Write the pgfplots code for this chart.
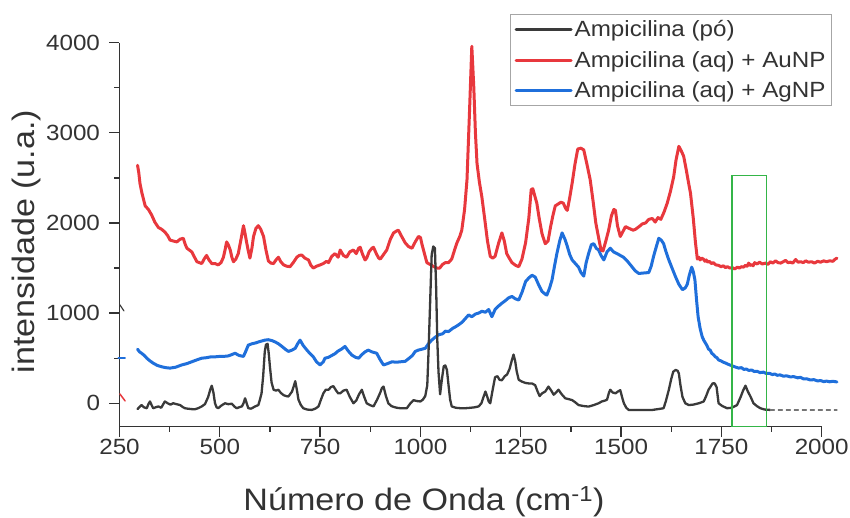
\documentclass[border=0pt]{standalone}
\usepackage{fontspec}
\setmainfont{Liberation Sans}[FakeStretch=1.1]
\usepackage{pgfplots}
\pgfplotsset{compat=1.18}

\definecolor{spred}{HTML}{E8383D}
\definecolor{spblue}{HTML}{1F6FDB}
\definecolor{spblack}{HTML}{3A3A3A}
\definecolor{boxgreen}{HTML}{34B548}
\definecolor{axgray}{HTML}{333333}

\begin{document}
\begin{tikzpicture}
\useasboundingbox (-119.5pt,-91.3pt) rectangle (730.5pt,426.7pt);
\begin{axis}[
  at={(0pt,0pt)}, anchor=south west,
  scale only axis, width=702.2pt, height=384pt,
  xmin=250, xmax=2000, ymin=-260, ymax=4000,
  clip=false,
  axis x line*=bottom, axis y line*=left,
  axis line style={-, line width=1.3pt, color=axgray},
  xtick={250,500,...,2000}, minor x tick num=1,
  ytick={0,1000,...,4000}, minor y tick num=1,
  tick align=outside,
  major tick length=10pt, minor tick length=5pt,
  every tick/.style={line width=1.3pt, color=axgray},
  scaled ticks=false,
  /pgf/number format/1000 sep={},
  /pgf/number format/assume math mode=true,
  ticklabel style={font=\fontsize{22}{26}\selectfont, text=axgray},
  yticklabel style={xshift=-6pt},
  xticklabel style={yshift=1pt},
  xlabel={Número de Onda (cm\textsuperscript{-1})},
  ylabel={intensidade (u.a.)},
  label style={font=\fontsize{31}{36}\selectfont, text=axgray},
  xlabel style={at={(axis description cs:0.4335,-0.2185)}, anchor=base},
  ylabel style={at={(axis description cs:-0.1324,0.482)}, anchor=center},
  legend style={at={(axis description cs:1.0147,1.074)}, anchor=north east,
    draw=gray!70, line width=1pt, fill=white,
    font=\fontsize{22}{26}\selectfont, text=axgray,
    inner sep=4pt, row sep=9pt},
  legend cell align=left,
  legend image code/.code={\draw[#1, line width=3pt] (0pt,0pt) -- (55pt,0pt);},
  every axis plot/.append style={line join=round, line cap=round},
]

% legend entries
\addlegendimage{spblack}
\addlegendentry{Ampicilina (pó)}
\addlegendimage{spred}
\addlegendentry{Ampicilina (aq) + AuNP}
\addlegendimage{spblue}
\addlegendentry{Ampicilina (aq) + AgNP}

% short stray strokes at the left edge
\addplot[spblue, line width=1.5pt, forget plot] coordinates {(247,500) (264,500)};
\addplot[spred, line width=1.5pt, forget plot] coordinates {(251,103) (264,26)};
\addplot[spblack, line width=1.2pt, forget plot] coordinates {(251,1092) (261,1025)};

% Ampicilina (aq) + AgNP
\addplot[spblue, line width=3pt, forget plot] coordinates {
(295,600) (300,570) (305,555) (312,530) (318,500) (326,470) (334,445) (344,420)
(355,405) (365,395) (376,390) (390,400) (405,425) (418,440) (430,460) (442,480)
(455,500) (466,505) (478,515) (488,515) (500,520) (510,520) (521,525) (530,540)
(538,555) (548,530) (559,520) (565,580) (571,645) (580,660) (590,670) (596,680)
(604,690) (612,700) (621,705) (630,695) (638,680) (646,660) (655,630) (663,600)
(671,575) (680,590) (688,610) (694,660) (700,700) (708,640) (717,590) (725,550)
(733,515) (741,460) (750,425) (758,460) (762,500) (771,510) (779,530) (787,550)
(795,580) (803,600) (812,630) (820,580) (829,535) (838,510) (846,500) (854,540)
(862,570) (870,590) (879,570) (891,555) (900,480) (908,425) (918,440) (929,460)
(940,455) (950,460) (962,465) (972,500) (980,530) (987,575) (995,590) (1004,600)
(1012,610) (1020,660) (1028,700) (1036,730) (1045,760) (1055,770) (1062,800) (1070,795)
(1080,830) (1088,850) (1095,870) (1104,900) (1112,940) (1120,980) (1128,960) (1137,990)
(1145,1000) (1153,1020) (1162,1010) (1170,1040) (1178,960) (1186,1040) (1195,1080) (1203,1110)
(1212,1140) (1220,1170) (1228,1185) (1236,1160) (1245,1145) (1253,1230) (1262,1350) (1270,1390)
(1278,1420) (1286,1400) (1295,1310) (1303,1240) (1311,1210) (1315,1200) (1322,1280) (1328,1370)
(1334,1520) (1340,1660) (1347,1800) (1353,1890) (1360,1820) (1366,1740) (1372,1650) (1378,1590)
(1386,1550) (1394,1510) (1400,1450) (1407,1410) (1413,1560) (1419,1660) (1426,1760) (1432,1770)
(1438,1720) (1444,1700) (1450,1640) (1457,1590) (1465,1680) (1473,1720) (1481,1680) (1490,1660)
(1498,1640) (1506,1620) (1515,1580) (1527,1515) (1535,1470) (1544,1440) (1556,1445) (1569,1450)
(1575,1520) (1581,1630) (1588,1740) (1594,1830) (1600,1810) (1606,1770) (1612,1680) (1619,1590)
(1627,1500) (1636,1400) (1644,1320) (1653,1260) (1660,1280) (1665,1320) (1670,1420) (1676,1510)
(1680,1460) (1684,1370) (1688,1150) (1692,960) (1697,830) (1702,740) (1706,700) (1710,670)
(1714,640) (1718,600) (1722,590) (1726,555) (1730,540) (1735,515) (1739,505) (1743,480)
(1749,470) (1755,455) (1761,445) (1768,430) (1774,420) (1780,410) (1786,400) (1793,390)
(1800,395) (1806,375) (1812,380) (1818,365) (1826,368) (1832,352) (1839,355) (1846,340)
(1855,345) (1862,330) (1870,332) (1877,318) (1883,325) (1889,310) (1896,315) (1905,300)
(1912,305) (1922,292) (1930,296) (1940,282) (1947,288) (1955,270) (1962,272) (1972,258)
(1980,262) (1990,248) (1997,252) (2005,240) (2012,246) (2020,238) (2028,244) (2038,236)
};

% Ampicilina (aq) + AuNP
\addplot[spred, line width=3pt, forget plot] coordinates {
(295,2640) (298,2560) (301,2440) (306,2330) (314,2190) (322,2150) (330,2090) (338,2010)
(347,1950) (355,1930) (363,1900) (370,1860) (376,1810) (384,1800) (393,1790) (401,1820)
(409,1830) (414,1760) (418,1720) (424,1700) (430,1680) (437,1620) (443,1570) (449,1560)
(455,1550) (461,1600) (467,1640) (473,1590) (480,1550) (488,1550) (496,1535) (503,1560)
(509,1620) (513,1700) (517,1790) (521,1760) (526,1700) (530,1620) (534,1570) (540,1600)
(546,1660) (552,1800) (559,1970) (563,1880) (567,1780) (571,1690) (575,1610) (580,1720)
(584,1850) (590,1940) (596,1970) (602,1930) (609,1850) (615,1700) (621,1580) (627,1555)
(634,1550) (640,1590) (646,1620) (652,1570) (659,1535) (667,1520) (675,1515) (683,1560)
(692,1620) (698,1640) (704,1645) (712,1610) (721,1590) (727,1530) (733,1500) (741,1520)
(750,1535) (758,1550) (766,1575) (771,1560) (779,1630) (787,1660) (795,1620) (800,1700)
(808,1640) (816,1620) (824,1680) (833,1700) (840,1660) (846,1720) (850,1730) (856,1650)
(862,1590) (866,1610) (872,1680) (879,1720) (883,1730) (890,1660) (896,1610) (900,1600)
(908,1650) (916,1700) (925,1820) (933,1890) (940,1910) (945,1920) (952,1860) (962,1780)
(970,1740) (979,1720) (987,1790) (995,1850) (1000,1840) (1004,1760) (1010,1660) (1016,1560)
(1024,1540) (1032,1520) (1041,1500) (1048,1500) (1055,1540) (1062,1560) (1070,1560) (1078,1600)
(1085,1700) (1091,1780) (1098,1850) (1103,1920) (1110,2150) (1116,2480) (1122,3200) (1128,3960)
(1133,3500) (1137,3000) (1141,2660) (1147,2450) (1153,2290) (1160,2050) (1167,1800) (1174,1630)
(1180,1610) (1186,1630) (1195,1780) (1203,1890) (1209,1800) (1215,1660) (1220,1620) (1228,1560)
(1237,1530) (1245,1515) (1253,1600) (1262,1780) (1270,2050) (1276,2370) (1280,2380) (1285,2300)
(1290,2220) (1296,2050) (1303,1880) (1311,1770) (1318,1800) (1324,1950) (1330,2080) (1336,2190)
(1343,2210) (1350,2230) (1356,2220) (1362,2160) (1366,2140) (1372,2280) (1378,2440) (1385,2650)
(1392,2820) (1400,2830) (1407,2810) (1415,2650) (1423,2480) (1430,2250) (1437,2000) (1443,1860)
(1450,1700) (1455,1690) (1462,1800) (1469,1920) (1476,2080) (1482,2150) (1486,2140) (1491,1970)
(1498,1850) (1504,1900) (1511,1960) (1520,1940) (1530,1920) (1536,1930) (1545,1960) (1553,1990)
(1561,2000) (1569,2040) (1578,2050) (1585,2010) (1592,2060) (1599,2040) (1607,2120) (1615,2220)
(1623,2350) (1631,2510) (1637,2700) (1644,2850) (1650,2800) (1656,2740) (1662,2600) (1668,2450)
(1673,2330) (1680,2050) (1685,1800) (1690,1600) (1694,1620) (1697,1590) (1701,1610) (1705,1600)
(1709,1575) (1712,1590) (1716,1565) (1720,1575) (1725,1550) (1730,1560) (1736,1535) (1743,1530)
(1749,1515) (1755,1525) (1760,1505) (1765,1515) (1771,1500) (1777,1505) (1783,1490) (1790,1510)
(1795,1500) (1800,1515) (1805,1510) (1810,1530) (1814,1520) (1818,1555) (1822,1530) (1825,1540)
(1829,1525) (1833,1560) (1839,1545) (1845,1565) (1852,1545) (1860,1555) (1866,1540) (1872,1570)
(1878,1555) (1885,1580) (1891,1560) (1898,1555) (1904,1570) (1910,1585) (1916,1560) (1922,1565)
(1928,1555) (1935,1595) (1941,1565) (1948,1570) (1954,1560) (1960,1580) (1967,1565) (1975,1570)
(1982,1555) (1990,1575) (1997,1565) (2005,1580) (2012,1570) (2020,1580) (2028,1575) (2034,1600)
(2038,1610)
};

% Ampicilina (po)
\addplot[spblack, line width=2.3pt, forget plot] coordinates {
(295,-65) (300,-40) (305,-20) (311,-45) (318,-55) (322,-10) (326,20) (330,-20)
(334,-55) (340,-45) (347,-35) (354,-50) (363,20) (370,0) (377,-15) (384,0)
(392,-10) (401,-20) (407,-40) (413,-55) (420,-60) (430,-65) (438,-67) (446,-55)
(455,-35) (463,-10) (471,70) (476,150) (480,195) (484,120) (488,0) (492,-45)
(496,-55) (504,-25) (513,0) (521,-10) (530,-5) (536,-35) (542,-55) (548,-45)
(555,-35) (559,0) (563,55) (567,0) (571,-55) (578,-60) (588,-35) (596,-20)
(600,40) (604,110) (608,300) (612,570) (615,650) (619,660) (622,550) (625,400)
(629,230) (634,150) (640,140) (646,150) (652,115) (659,90) (665,80) (671,75)
(680,130) (685,200) (688,245) (692,150) (696,40) (702,-20) (708,-55) (718,-70)
(729,-74) (738,-60) (746,-35) (752,40) (758,110) (764,150) (771,150) (777,180)
(783,190) (790,140) (795,110) (800,110) (808,140) (816,150) (824,70) (833,0)
(840,30) (847,100) (854,150) (860,70) (866,0) (874,-20) (883,-35) (892,40)
(900,120) (904,170) (908,185) (914,80) (920,0) (927,-30) (933,-40) (941,-50)
(950,-55) (958,-55) (966,-55) (975,0) (983,35) (990,25) (1000,20) (1006,40)
(1012,80) (1017,200) (1020,550) (1024,1100) (1028,1650) (1032,1740) (1036,1720) (1039,1300)
(1042,700) (1045,350) (1049,100) (1053,250) (1058,410) (1062,420) (1066,370) (1070,200)
(1074,40) (1078,-35) (1088,-50) (1100,-55) (1112,-55) (1125,-50) (1135,-45) (1145,-35)
(1152,0) (1158,80) (1162,130) (1166,80) (1170,20) (1174,0) (1180,150) (1186,290)
(1192,300) (1197,260) (1203,255) (1210,300) (1216,320) (1222,380) (1228,480) (1232,540)
(1236,470) (1240,350) (1245,260) (1253,240) (1262,225) (1270,220) (1278,220) (1286,200)
(1292,130) (1297,80) (1303,110) (1311,130) (1319,185) (1326,140) (1332,95) (1338,120)
(1344,150) (1352,100) (1361,55) (1370,45) (1378,35) (1386,10) (1394,-20) (1405,-30)
(1419,-37) (1432,-20) (1444,0) (1452,20) (1460,30) (1465,40) (1470,120) (1473,150)
(1479,120) (1486,110) (1492,130) (1498,145) (1503,60) (1507,0) (1513,-50) (1519,-74)
(1530,-74) (1545,-74) (1560,-74) (1578,-74) (1592,-65) (1606,-55) (1612,30) (1619,150)
(1625,270) (1630,350) (1636,370) (1641,360) (1644,330) (1648,200) (1653,70) (1660,0)
(1669,-20) (1680,-15) (1694,0) (1706,20) (1712,80) (1718,150) (1723,185) (1728,220)
(1733,222) (1738,180) (1743,0) (1752,-30) (1764,-55) (1776,-50) (1789,-20) (1798,70)
(1804,140) (1810,195) (1816,130) (1823,70) (1830,0) (1838,-30) (1847,-55) (1858,-70)
(1872,-74)
};
\addplot[spblack!70, line width=1.3pt, dash pattern=on 4pt off 4pt, forget plot]
  coordinates {(1872,-74) (2038,-74)};

% highlighted band
\addplot[boxgreen, line width=1.6pt, line cap=butt, line join=miter, forget plot]
  coordinates {(1777,-260) (1777,2525) (1862,2525) (1862,-260) (1777,-260)};

\end{axis}
\end{tikzpicture}
\end{document}
